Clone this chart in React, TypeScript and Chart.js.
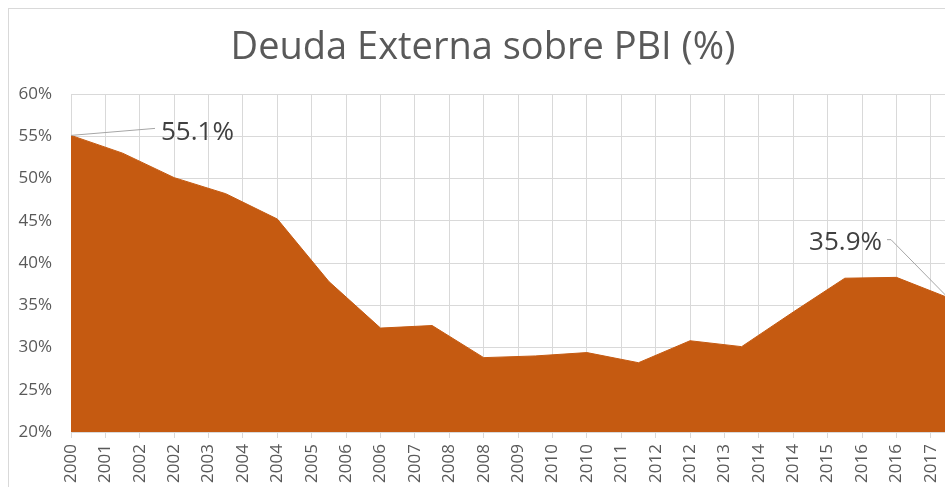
import React, { useEffect, useRef } from "react";
import { Chart, registerables } from "chart.js";

Chart.register(...registerables);

const title = "Deuda Externa sobre PBI (%)";
const years = [2000, 2001, 2002, 2003, 2004, 2005, 2006, 2007, 2008, 2009, 2010, 2011, 2012, 2013, 2014, 2015, 2016, 2017];
const debtPct = [55.1, 53.0, 50.1, 48.2, 45.2, 37.8, 32.3, 32.6, 28.8, 29.0, 29.4, 28.2, 30.8, 30.1, 34.2, 38.2, 38.3, 35.9];
const xTickLabels = [
  "2000", "2001", "2002", "2002", "2003", "2004", "2004", "2005", "2006", "2006", "2007", "2008", "2008",
  "2009", "2010", "2010", "2011", "2012", "2012", "2013", "2014", "2014", "2015", "2016", "2016", "2017",
];
const yTicks = [20, 25, 30, 35, 40, 45, 50, 55, 60];
const labelledIdx = [0, 17];

const FONT = "'Open Sans', 'Noto Sans', sans-serif";
const AREA = "#C55A11";

if (typeof document !== "undefined") {
  document.body.style.margin = "0";
  document.body.style.overflow = "hidden";
}

export default function App() {
  const ref = useRef<HTMLCanvasElement>(null);
  useEffect(() => {
    const canvas = ref.current!;
    const titlePlugin = {
      id: "titleAndLabels",
      afterDatasetsDraw(chart: any) {
        const ctx = chart.ctx;
        ctx.save();
        ctx.fillStyle = "#595959";
        ctx.font = `38px ${FONT}`;
        ctx.textAlign = "center";
        ctx.textBaseline = "middle";
        ctx.fillText(title, 474, 39);
        const meta = chart.getDatasetMeta(0);
        ctx.strokeStyle = "#a6a6a6";
        ctx.lineWidth = 1;
        ctx.font = `26px ${FONT}`;
        ctx.fillStyle = "#404040";
        labelledIdx.forEach((i) => {
          const p = meta.data[i];
          const txt = `${debtPct[i].toFixed(1)}%`;
          if (i === 0) {
            ctx.beginPath();
            ctx.moveTo(p.x, p.y);
            ctx.lineTo(p.x + 84, p.y - 7);
            ctx.stroke();
            ctx.textAlign = "left";
            ctx.fillText(txt, p.x + 90, p.y - 3);
          } else {
            ctx.beginPath();
            ctx.moveTo(p.x, p.y);
            ctx.lineTo(p.x - 57, p.y - 58);
            ctx.lineTo(p.x - 61, p.y - 58);
            ctx.stroke();
            ctx.textAlign = "right";
            ctx.fillText(txt, p.x - 66, p.y - 55);
          }
        });
        ctx.restore();
      },
    };
    const chart = new Chart(canvas, {
      type: "line",
      data: {
        datasets: [
          {
            data: years.map((y, i) => ({ x: (y - years[0]) * 1.5, y: debtPct[i] })),
            borderColor: AREA,
            backgroundColor: AREA,
            borderWidth: 1,
            fill: "start",
            pointRadius: 0,
            tension: 0,
          },
        ],
      },
      options: {
        animation: false,
        responsive: false,
        layout: { padding: { top: 85, right: 2, left: 0, bottom: 0 } },
        plugins: { legend: { display: false }, tooltip: { enabled: false }, title: { display: false } },
        scales: {
          x: {
            type: "linear",
            min: 0,
            max: 25.5,
            afterBuildTicks(scale: any) {
              scale.ticks = xTickLabels.map((_, i) => ({ value: i }));
            },
            afterFit(scale: any) {
              scale.height = 55;
              scale.paddingRight = 0;
              scale.paddingLeft = 0;
            },
            ticks: {
              autoSkip: false,
              minRotation: 90,
              maxRotation: 90,
              padding: 6,
              color: "#595959",
              font: { family: FONT, size: 17 },
              callback: (_v: any, i: number) => xTickLabels[i],
            },
            grid: { color: "#d9d9d9", tickLength: 6 },
            border: { color: "#d9d9d9" },
          },
          y: {
            min: yTicks[0],
            max: yTicks[yTicks.length - 1],
            afterBuildTicks(scale: any) {
              scale.ticks = yTicks.map((v) => ({ value: v }));
            },
            afterFit(scale: any) {
              scale.width = 62;
            },
            ticks: {
              padding: 19,
              color: "#595959",
              font: { family: FONT, size: 17 },
              callback: (v: any) => `${v}%`,
            },
            grid: { color: "#d9d9d9", drawTicks: false },
            border: { color: "#d9d9d9" },
          },
        },
      },
      plugins: [titlePlugin],
    } as any);
    return () => chart.destroy();
  }, []);
  return (
    <div
      style={{
        width: 945,
        height: 487,
        paddingLeft: 8,
        paddingTop: 8,
        boxSizing: "border-box",
        background: "#fff",
        overflow: "hidden",
      }}
    >
      <div
        style={{
          width: 937,
          height: 479,
          borderLeft: "1px solid #d9d9d9",
          borderTop: "1px solid #d9d9d9",
          boxSizing: "border-box",
          overflow: "hidden",
        }}
      >
        <canvas ref={ref} width={941} height={478} style={{ display: "block" }} />
      </div>
    </div>
  );
}
